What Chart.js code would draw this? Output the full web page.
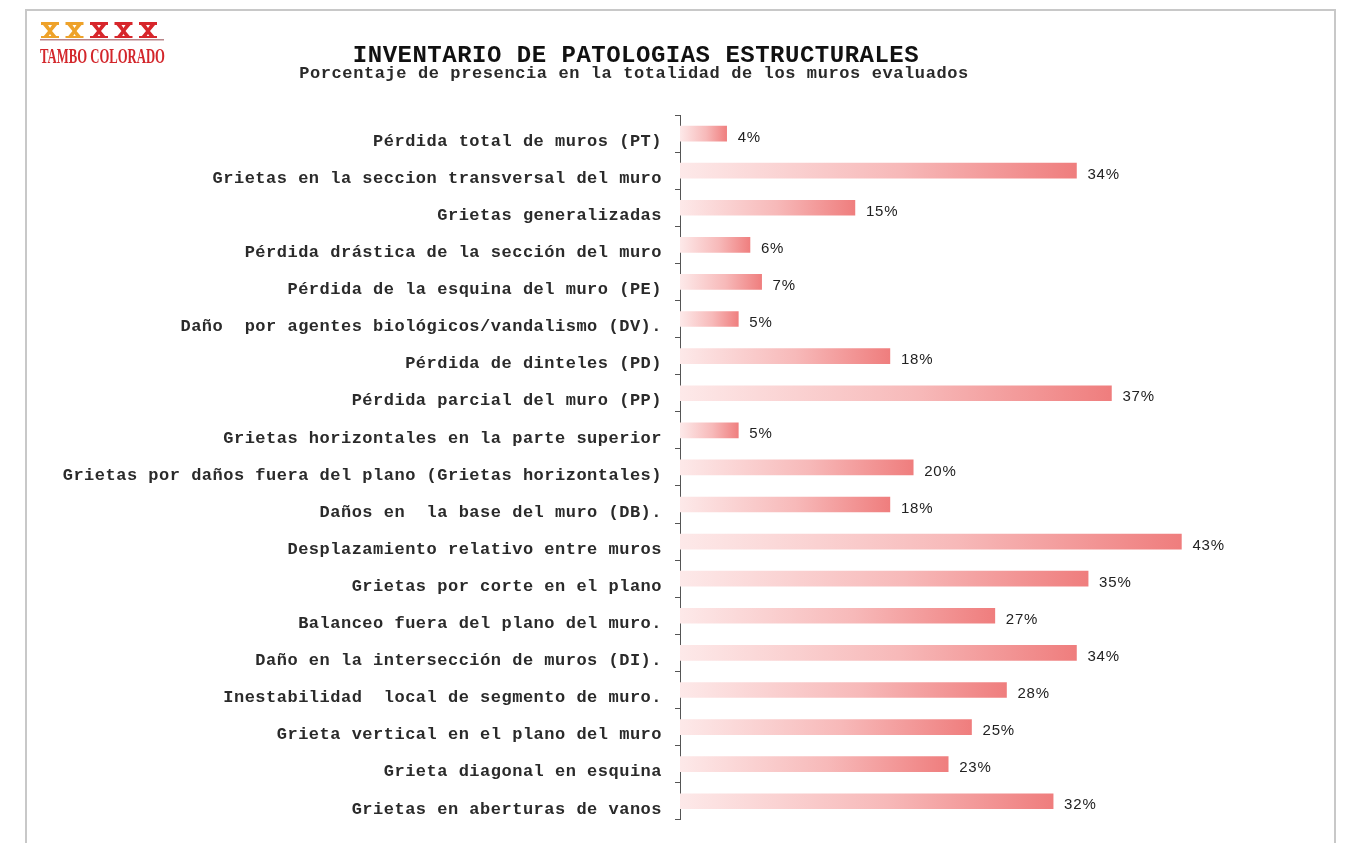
<!DOCTYPE html>
<html>
<head>
<meta charset="utf-8">
<title>Inventario de patologías estructurales</title>
<script src="https://cdn.jsdelivr.net/npm/chart.js@4.4.1/dist/chart.umd.min.js"></script>
<style>
  html, body { margin: 0; padding: 0; background: #fff; }
  #wrap { position: relative; width: 1345px; height: 843px; }
  canvas { display: block; }
</style>
</head>
<body>
<div id="wrap"><canvas id="patologias" width="1345" height="843"></canvas></div>
<script>
// --- datos ---
const categorias = [
  'Pérdida total de muros (PT)',
  'Grietas en la seccion transversal del muro',
  'Grietas generalizadas',
  'Pérdida drástica de la sección del muro',
  'Pérdida de la esquina del muro (PE)',
  'Daño  por agentes biológicos/vandalismo (DV).',
  'Pérdida de dinteles (PD)',
  'Pérdida parcial del muro (PP)',
  'Grietas horizontales en la parte superior',
  'Grietas por daños fuera del plano (Grietas horizontales)',
  'Daños en  la base del muro (DB).',
  'Desplazamiento relativo entre muros',
  'Grietas por corte en el plano',
  'Balanceo fuera del plano del muro.',
  'Daño en la intersección de muros (DI).',
  'Inestabilidad  local de segmento de muro.',
  'Grieta vertical en el plano del muro',
  'Grieta diagonal en esquina',
  'Grietas en aberturas de vanos'
];
const porcentajes = [4, 34, 15, 6, 7, 5, 18, 37, 5, 20, 18, 43, 35, 27, 34, 28, 25, 23, 32];

const titulo = 'INVENTARIO DE PATOLOGIAS ESTRUCTURALES';
const subtitulo = 'Porcentaje de presencia en la totalidad de los muros evaluados';
const logoTexto = 'TAMBO COLORADO';

const MONO = '"Liberation Mono", "DejaVu Sans Mono", monospace';

// degradado rosa claro -> salmón a lo largo de cada barra
function barGradient(context) {
  const chart = context.chart;
  const xs = chart.scales.x;
  if (!xs || !chart.chartArea) return '#f39a9a';
  const v = context.raw;
  const x0 = xs.getPixelForValue(0);
  const x1 = xs.getPixelForValue(v);
  const g = chart.ctx.createLinearGradient(x0, 0, x1 + 1, 0);
  g.addColorStop(0, '#fde9e9');
  g.addColorStop(0.55, '#f7b9b9');
  g.addColorStop(1, '#ef7d7d');
  return g;
}

// marco, logo y títulos
const decor = {
  id: 'decor',
  beforeDraw(chart) {
    const c = chart.ctx;
    c.save();
    c.fillStyle = '#fff';
    c.fillRect(0, 0, chart.width, chart.height);
    c.strokeStyle = '#c8c8c8';
    c.lineWidth = 2;
    c.strokeRect(26, 10, 1309, 900);

    // figuritas del logo
    const cols = ['#eea22a', '#eea22a', '#d7262b', '#d7262b', '#d7262b'];
    for (let i = 0; i < 5; i++) {
      const x = 41 + i * 24.5, y = 22;
      c.fillStyle = cols[i];
      c.fillRect(x, y, 18, 3);
      c.beginPath();
      c.moveTo(x + 2, y + 3); c.lineTo(x + 7, y + 3); c.lineTo(x + 11, y + 9);
      c.lineTo(x + 16, y + 15); c.lineTo(x + 11, y + 15); c.lineTo(x + 7, y + 9);
      c.closePath(); c.fill();
      c.beginPath();
      c.moveTo(x + 11, y + 3); c.lineTo(x + 16, y + 3); c.lineTo(x + 11, y + 9);
      c.lineTo(x + 7, y + 15); c.lineTo(x + 2, y + 15); c.lineTo(x + 7, y + 9);
      c.closePath(); c.fill();
      c.fillRect(x, y + 14, 18, 2);
    }
    c.fillStyle = '#b9868a';
    c.fillRect(40, 39, 124, 1.5);

    // texto del logo, comprimido
    c.font = 'bold 20px "Liberation Serif", serif';
    c.fillStyle = '#d3262b';
    c.textBaseline = 'alphabetic';
    const w = c.measureText(logoTexto).width;
    c.translate(40, 63);
    c.scale(125 / w, 1);
    c.fillText(logoTexto, 0, 0);
    c.restore();

    c.save();
    c.textAlign = 'center';
    c.textBaseline = 'alphabetic';
    c.fillStyle = '#111';
    c.letterSpacing = '0.5px';
    c.font = 'bold 24px ' + MONO;
    c.fillText(titulo, 636, 62);
    c.letterSpacing = '0.6px';
    c.font = 'bold 17px ' + MONO;
    c.fillStyle = '#2a2a2a';
    c.fillText(subtitulo, 634, 78);
    c.restore();

    // espaciado de letras para las etiquetas del eje
    chart.ctx.letterSpacing = '0.5px';
  }
};

// porcentaje al final de cada barra
const valueLabels = {
  id: 'valueLabels',
  afterDatasetsDraw(chart) {
    const c = chart.ctx;
    const meta = chart.getDatasetMeta(0);
    c.save();
    c.letterSpacing = '0.8px';
    c.font = '15px "Liberation Sans", "DejaVu Sans", sans-serif';
    c.fillStyle = '#222';
    c.textAlign = 'left';
    c.textBaseline = 'middle';
    meta.data.forEach((bar, i) => {
      c.fillText(porcentajes[i] + '%', bar.x + 11, bar.y + 4);
    });
    c.restore();
  }
};

new Chart(document.getElementById('patologias'), {
  type: 'bar',
  data: {
    labels: categorias,
    datasets: [{
      data: porcentajes,
      backgroundColor: barGradient,
      borderWidth: 0,
      barThickness: 15
    }]
  },
  options: {
    indexAxis: 'y',
    responsive: false,
    animation: false,
    events: [],
    layout: { padding: { top: 115, bottom: 19, right: 82, left: 0 } },
    plugins: {
      legend: { display: false },
      title: { display: false },
      tooltip: { enabled: false }
    },
    scales: {
      x: {
        display: false,
        min: 0,
        max: 50
      },
      y: {
        afterFit(scale) { scale.width = 680; },
        border: { display: true, color: '#555', width: 1 },
        grid: {
          offset: true,
          drawOnChartArea: false,
          drawTicks: true,
          tickLength: 5,
          color: '#555'
        },
        ticks: {
          color: '#2a2a2a',
          padding: 13,
          labelOffset: 8,
          autoSkip: false,
          font: { family: MONO, size: 17, weight: 'bold' }
        }
      }
    }
  },
  plugins: [decor, valueLabels]
});
</script>
</body>
</html>
